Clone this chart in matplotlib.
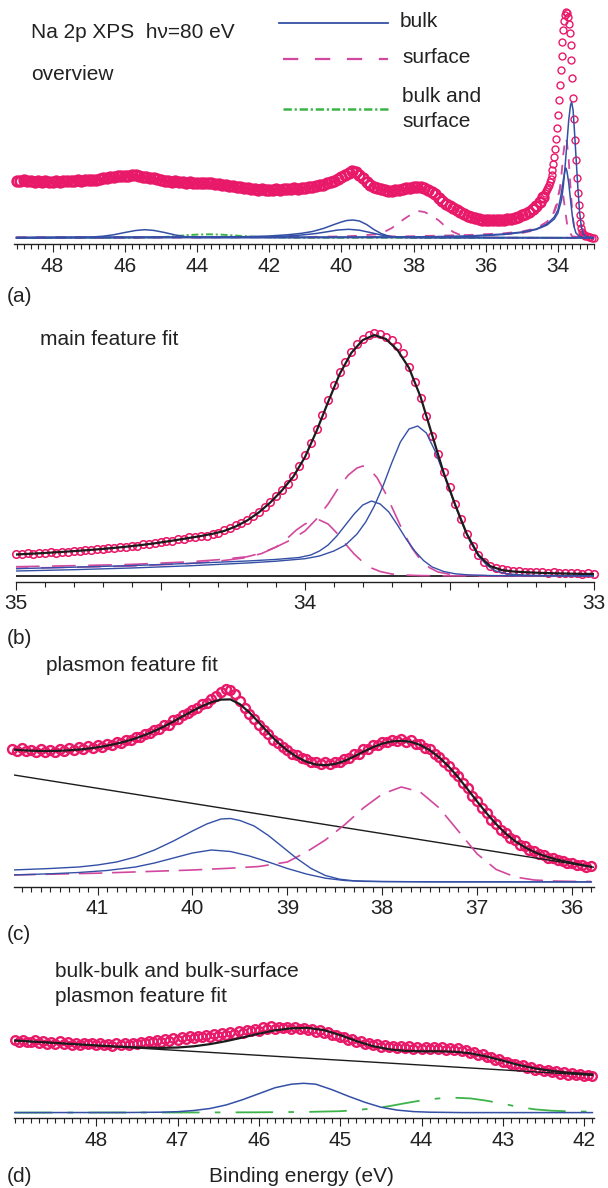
import numpy as np
import matplotlib
matplotlib.use("Agg")
import matplotlib.pyplot as plt
from matplotlib.lines import Line2D
from matplotlib.ticker import FixedLocator, FixedFormatter

plt.rcParams['font.family'] = ['Liberation Sans', 'DejaVu Sans']
plt.rcParams['lines.scale_dashes'] = False

# ---------------- data: panel (a) overview ----------------
a_energy = [
    49.0, 48.9, 48.8, 48.7, 48.6, 48.5, 48.4, 48.3, 48.2, 48.1,
    48.0, 47.9, 47.8, 47.7, 47.6, 47.5, 47.4, 47.3, 47.2, 47.1,
    47.0, 46.9, 46.8, 46.7, 46.6, 46.5, 46.4, 46.3, 46.2, 46.1,
    46.0, 45.9, 45.8, 45.7, 45.6, 45.5, 45.4, 45.3, 45.2, 45.1,
    45.0, 44.9, 44.8, 44.7, 44.6, 44.5, 44.4, 44.3, 44.2, 44.1,
    44.0, 43.9, 43.8, 43.7, 43.6, 43.5, 43.4, 43.3, 43.2, 43.1,
    43.0, 42.9, 42.8, 42.7, 42.6, 42.5, 42.4, 42.3, 42.2, 42.1,
    42.0, 41.9, 41.8, 41.7, 41.6, 41.5, 41.4, 41.3, 41.2, 41.1,
    41.0, 40.9, 40.8, 40.7, 40.6, 40.5, 40.4, 40.3, 40.2, 40.1,
    40.0, 39.9, 39.8, 39.7, 39.6, 39.5, 39.4, 39.3, 39.2, 39.1,
    39.0, 38.9, 38.8, 38.7, 38.6, 38.5, 38.4, 38.3, 38.2, 38.1,
    38.0, 37.9, 37.8, 37.7, 37.6, 37.5, 37.4, 37.3, 37.2, 37.1,
    37.0, 36.9, 36.8, 36.7, 36.6, 36.5, 36.4, 36.3, 36.2, 36.1,
    36.0, 35.9, 35.8, 35.7, 35.6, 35.5, 35.4, 35.3, 35.2, 35.1,
    35.0, 34.9, 34.8, 34.7, 34.6, 34.5, 34.4,
    34.375, 34.35, 34.325, 34.3, 34.275, 34.25, 34.225, 34.2, 34.175, 34.15,
    34.125, 34.1, 34.075, 34.05, 34.025, 34.0, 33.975, 33.95, 33.925, 33.9,
    33.875, 33.85, 33.825, 33.8, 33.775, 33.75, 33.725, 33.7, 33.675, 33.65,
    33.625, 33.6, 33.575, 33.55, 33.525, 33.5, 33.475, 33.45, 33.425, 33.4,
    33.375, 33.35, 33.325, 33.3, 33.275, 33.25, 33.2, 33.15, 33.1, 33.05,
    33.0]
a_counts = [
    57.5, 57.0, 57.6, 56.8, 57.2, 56.4, 56.9, 56.2, 56.8, 56.0,
    56.5, 56.9, 56.3, 57.2, 56.7, 57.3, 57.0, 57.8, 57.3, 58.0,
    57.7, 58.5, 58.2, 59.0, 59.6, 60.0, 60.8, 60.6, 61.6, 61.8,
    62.5, 62.4, 63.2, 62.6, 62.4, 61.4, 61.0, 59.8, 59.6, 58.6,
    58.3, 57.4, 57.2, 56.4, 56.6, 55.8, 56.0, 55.4, 55.8, 55.0,
    55.4, 54.8, 55.2, 54.6, 54.9, 54.4, 54.0, 53.4, 53.0, 52.2,
    51.8, 51.0, 50.8, 50.0, 49.8, 49.2, 48.9, 48.4, 48.6, 48.0,
    48.2, 48.0, 48.6, 48.3, 49.0, 49.4, 49.2, 49.8, 49.5, 50.0,
    50.2, 50.8, 51.2, 51.8, 52.6, 53.4, 54.6, 55.8, 57.4, 59.2,
    61.0, 63.0, 64.8, 67.0, 66.0, 63.0, 59.8, 56.5, 53.5, 51.2,
    49.6, 48.6, 47.8, 47.4, 47.2, 47.6, 48.2, 48.9, 49.6, 50.4,
    51.0, 51.2, 50.8, 49.8, 48.4, 46.4, 43.6, 40.4, 37.2, 34.4,
    32.0, 29.6, 27.6, 25.6, 23.8, 22.0, 20.8, 19.6, 18.9, 18.4,
    18.0, 17.8, 17.6, 17.7, 17.8, 18.1, 18.6, 19.3, 20.1, 21.2,
    22.6, 24.2, 26.2, 28.8, 32.0, 36.2, 41.5,
    43.5, 45.5, 47.0, 49.0, 51.0, 53.5, 56.0, 59.0, 63.0, 68.0,
    74.0, 81.0, 89.0, 99.0, 110.0, 123.0, 138.0, 153.0, 168.0, 182.0,
    196.0, 208.0, 217.0, 223.0, 226.0, 225.0, 221.0, 214.0, 205.0, 193.0,
    178.0, 160.0, 140.0, 119.0, 98.0, 78.0, 60.0, 45.0, 33.0, 23.0,
    15.0, 10.0, 6.5, 4.5, 3.2, 2.4, 1.6, 1.0, 0.7, 0.5,
    0.3]

a_bulk_main1_E = [49.0, 41.0, 38.0, 36.5, 35.5, 35.0, 34.6, 34.3, 34.1, 34.0, 33.9, 33.85, 33.8,
                  33.75, 33.7, 33.65, 33.62, 33.58, 33.55, 33.5, 33.45, 33.4, 33.35, 33.3, 33.2, 33.0]
a_bulk_main1_I = [0.3, 0.5, 1.0, 1.5, 3.5, 5.5, 8.5, 13.0, 19.0, 25.0, 38.0, 52.0, 72.0,
                  95.0, 118.0, 133.0, 136.0, 128.0, 112.0, 82.0, 52.0, 26.0, 11.0, 4.0, 1.0, 0.2]
a_bulk_main2_E = [49.0, 38.0, 36.5, 35.5, 35.0, 34.6, 34.3, 34.1, 34.0, 33.95, 33.9, 33.85,
                  33.8, 33.78, 33.75, 33.7, 33.65, 33.6, 33.55, 33.5, 33.4, 33.3, 33.0]
a_bulk_main2_I = [0.3, 1.0, 2.0, 4.0, 6.0, 9.0, 14.0, 21.0, 28.0, 36.0, 46.0, 58.0,
                  68.0, 70.0, 67.0, 55.0, 38.0, 22.0, 11.0, 5.0, 1.5, 0.5, 0.2]
a_bulk_pl1_E = [49.0, 43.0, 42.0, 41.5, 41.1, 40.8, 40.5, 40.2, 40.0, 39.85, 39.68, 39.5,
                39.3, 39.1, 38.9, 38.7, 38.5, 38.0, 33.0]
a_bulk_pl1_I = [0.5, 1.0, 2.0, 3.2, 4.7, 6.5, 9.5, 13.5, 16.0, 17.5, 18.0, 17.0,
                13.5, 8.5, 4.5, 2.0, 1.0, 0.5, 0.3]
a_bulk_pl2_E = [49.0, 42.0, 41.5, 41.1, 40.7, 40.4, 40.1, 39.8, 39.5, 39.2, 38.9, 38.6, 38.3, 33.0]
a_bulk_pl2_I = [0.3, 1.2, 2.0, 3.0, 4.5, 6.2, 8.0, 8.7, 7.8, 5.5, 3.0, 1.2, 0.5, 0.2]
a_bulk_bb_E = [49.0, 47.0, 46.6, 46.3, 46.0, 45.7, 45.45, 45.2, 44.9, 44.6, 44.3, 44.0, 33.0]
a_bulk_bb_I = [0.3, 0.8, 1.8, 3.3, 5.5, 7.5, 8.3, 7.6, 5.5, 3.0, 1.2, 0.5, 0.3]
a_surf_pl_E = [49.0, 41.0, 40.0, 39.5, 39.0, 38.8, 38.6, 38.43, 38.2, 38.0, 37.88, 37.7,
               37.5, 37.3, 37.1, 36.9, 36.7, 36.4, 36.0, 35.0, 33.0]
a_surf_pl_I = [0.5, 1.0, 1.6, 2.3, 4.0, 6.3, 10.0, 14.7, 20.5, 25.0, 27.0, 26.0,
               22.5, 17.5, 11.0, 6.0, 3.0, 1.2, 0.5, 0.2, 0.2]
a_surf_main1_E = [49.0, 40.0, 38.0, 36.5, 35.5, 35.0, 34.6, 34.3, 34.1, 34.0, 33.95, 33.9,
                  33.85, 33.8, 33.78, 33.75, 33.7, 33.65, 33.6, 33.55, 33.5, 33.4, 33.0]
a_surf_main1_I = [0.5, 1.0, 1.8, 3.0, 4.7, 6.5, 9.7, 16.3, 26.0, 36.0, 48.0, 64.0,
                  84.0, 98.0, 100.0, 96.0, 78.0, 50.0, 26.0, 10.0, 3.5, 0.5, 0.2]
a_surf_main2_E = [49.0, 38.0, 36.0, 35.0, 34.6, 34.3, 34.15, 34.05, 34.0, 33.95, 33.92,
                  33.88, 33.85, 33.8, 33.75, 33.7, 33.6, 33.0]
a_surf_main2_I = [0.3, 1.0, 2.5, 5.0, 8.0, 14.0, 22.0, 33.0, 41.0, 49.0, 52.0,
                  49.0, 42.0, 28.0, 15.0, 7.0, 1.5, 0.2]
a_bs_E = [49.0, 45.5, 45.0, 44.6, 44.3, 44.0, 43.65, 43.3, 43.0, 42.6, 42.2, 41.5, 33.0]
a_bs_I = [0.2, 0.3, 0.8, 1.8, 2.8, 3.4, 3.7, 3.3, 2.6, 1.6, 0.8, 0.3, 0.1]

a_ticks = [48, 46, 44, 42, 40, 38, 36, 34]
a_ticklabels = ["48", "46", "44", "42", "40", "38", "36", "34"]

# ---------------- data: panel (b) main feature ----------------
b_energy = [
    35.00, 34.98, 34.96, 34.94, 34.92, 34.90, 34.88, 34.86, 34.84, 34.82,
    34.80, 34.78, 34.76, 34.74, 34.72, 34.70, 34.68, 34.66, 34.64, 34.62,
    34.60, 34.58, 34.56, 34.54, 34.52, 34.50, 34.48, 34.46, 34.44, 34.42,
    34.40, 34.38, 34.36, 34.34, 34.32, 34.30, 34.28, 34.26, 34.24, 34.22,
    34.20, 34.18, 34.16, 34.14, 34.12, 34.10, 34.08, 34.06, 34.04, 34.02,
    34.00, 33.98, 33.96, 33.94, 33.92, 33.90, 33.88, 33.86, 33.84, 33.82,
    33.80, 33.78, 33.76, 33.74, 33.72, 33.70, 33.68, 33.66, 33.64, 33.62,
    33.60, 33.58, 33.56, 33.54, 33.52, 33.50, 33.48, 33.46, 33.44, 33.42,
    33.40, 33.38, 33.36, 33.34, 33.32, 33.30, 33.28, 33.26, 33.24, 33.22,
    33.20, 33.18, 33.16, 33.14, 33.12, 33.10, 33.08, 33.06, 33.04, 33.02,
    33.00]
b_counts = [
    22.4, 21.8, 22.6, 22.1, 23.2, 22.9, 23.8, 23.4, 24.4, 24.2,
    25.2, 25.0, 26.0, 25.8, 26.9, 26.8, 27.9, 27.9, 29.1, 29.1,
    30.3, 30.4, 31.7, 31.9, 33.3, 33.6, 34.9, 35.3, 36.7, 37.1,
    38.5, 38.8, 40.1, 40.3, 41.8, 42.8, 45.8, 47.8, 50.8, 52.8,
    56.4, 59.8, 64.4, 68.8, 74.4, 79.8, 86.4, 91.8, 100.4, 109.8,
    121.4, 132.8, 147.4, 160.8, 176.4, 190.8, 204.4, 213.8, 224.4, 231.8,
    237.4, 240.8, 243.4, 241.8, 239.4, 235.6, 229.6, 223.4, 209.0, 194.4,
    178.0, 160.4, 140.0, 122.4, 104.0, 89.4, 72.0, 57.4, 42.0, 30.4,
    21.0, 14.4, 10.0, 8.4, 6.5, 5.9, 5.0, 5.0, 4.3, 4.4,
    3.8, 4.0, 3.4, 3.6, 3.0, 3.3, 2.7, 2.9, 2.3, 2.6,
    2.0]
b_fit_E = [
    35.00, 34.96, 34.92, 34.88, 34.84, 34.80, 34.76, 34.72, 34.68, 34.64,
    34.60, 34.56, 34.52, 34.48, 34.44, 34.40, 34.36, 34.32, 34.28, 34.24,
    34.20, 34.16, 34.12, 34.08, 34.04, 34.00, 33.96, 33.92, 33.88, 33.84,
    33.80, 33.76, 33.72, 33.68, 33.64, 33.60, 33.56, 33.52, 33.48, 33.44,
    33.40, 33.36, 33.32, 33.28, 33.24, 33.20, 33.16, 33.12, 33.08, 33.04,
    33.00]
b_fit_I = [
    21.5, 22.1, 22.7, 23.4, 24.1, 24.9, 25.7, 26.6, 27.6, 28.7,
    29.9, 31.2, 32.7, 34.4, 36.2, 38.1, 40.0, 42.2, 45.0, 49.5,
    55.5, 63.5, 73.5, 85.5, 99.5, 119.0, 145.0, 174.0, 202.0, 223.0,
    236.0, 241.0, 237.0, 226.0, 208.0, 179.0, 141.0, 103.0, 71.0, 42.0,
    21.0, 10.0, 6.0, 4.5, 3.8, 3.3, 2.9, 2.6, 2.3, 2.1,
    2.0]
b_bulk1_E = [35.0, 34.8, 34.6, 34.4, 34.2, 34.1, 34.0, 33.95, 33.9, 33.86, 33.82, 33.79, 33.76,
             33.73, 33.70, 33.67, 33.64, 33.61, 33.58, 33.55, 33.52, 33.49, 33.46, 33.43, 33.40,
             33.37, 33.34, 33.30, 33.25, 33.2, 33.1, 33.0]
b_bulk1_I = [5.0, 6.3, 8.0, 10.2, 13.0, 14.8, 17.3, 20.0, 25.0, 31.0, 42.0, 54.0, 70.0,
             90.0, 113.0, 134.0, 147.0, 150.0, 143.0, 125.0, 102.0, 78.0, 55.0, 35.0, 20.0,
             10.5, 5.0, 2.2, 1.0, 0.6, 0.3, 0.2]
b_bulk2_E = [35.0, 34.8, 34.6, 34.4, 34.2, 34.1, 34.02, 33.98, 33.95, 33.92, 33.89, 33.86, 33.83,
             33.80, 33.77, 33.74, 33.71, 33.68, 33.65, 33.62, 33.59, 33.56, 33.52, 33.48, 33.43,
             33.35, 33.2, 33.0]
b_bulk2_I = [7.3, 8.8, 10.4, 12.6, 15.0, 16.6, 18.5, 21.0, 25.0, 31.0, 40.0, 51.0, 62.0,
             71.0, 75.0, 72.0, 64.0, 51.0, 37.0, 25.0, 15.5, 9.0, 4.5, 2.2, 1.0,
             0.4, 0.2, 0.1]
b_surf1_E = [35.0, 34.8, 34.6, 34.4, 34.3, 34.2, 34.15, 34.1, 34.05, 34.0, 33.96, 33.92, 33.88,
             33.85, 33.82, 33.80, 33.78, 33.75, 33.72, 33.69, 33.66, 33.63, 33.60, 33.57, 33.54,
             33.5, 33.45, 33.4, 33.3, 33.0]
b_surf1_I = [9.3, 10.3, 11.6, 14.2, 16.3, 19.3, 23.0, 29.0, 36.0, 45.0, 57.0, 72.0, 90.0,
             101.0, 108.0, 110.0, 108.0, 98.0, 82.0, 63.0, 44.0, 28.0, 16.0, 8.5, 4.0,
             1.8, 0.8, 0.4, 0.2, 0.1]
b_surf2_E = [35.0, 34.8, 34.6, 34.4, 34.3, 34.2, 34.15, 34.1, 34.06, 34.03, 34.0, 33.97, 33.95,
             33.92, 33.89, 33.86, 33.83, 33.80, 33.77, 33.74, 33.70, 33.66, 33.6, 33.5, 33.3, 33.0]
b_surf2_I = [7.7, 8.8, 10.0, 12.5, 14.8, 18.5, 22.5, 29.0, 38.0, 46.0, 52.0, 55.5, 56.0,
             52.0, 43.0, 32.0, 22.0, 14.0, 8.0, 4.5, 2.0, 1.0, 0.4, 0.2, 0.1, 0.1]
b_ticks = [35, 34.5, 34, 33.5, 33]
b_ticklabels = ["35", "", "34", "", "33"]

# ---------------- data: panel (c) plasmon feature ----------------
c_energy = [
    41.90, 41.85, 41.80, 41.75, 41.70, 41.65, 41.60, 41.55, 41.50, 41.45,
    41.40, 41.35, 41.30, 41.25, 41.20, 41.15, 41.10, 41.05, 41.00, 40.95,
    40.90, 40.85, 40.80, 40.75, 40.70, 40.65, 40.60, 40.55, 40.50, 40.45,
    40.40, 40.35, 40.30, 40.25, 40.20, 40.15, 40.10, 40.05, 40.00, 39.95,
    39.90, 39.85, 39.80, 39.75, 39.70, 39.65, 39.60, 39.55, 39.50, 39.45,
    39.40, 39.35, 39.30, 39.25, 39.20, 39.15, 39.10, 39.05, 39.00, 38.95,
    38.90, 38.85, 38.80, 38.75, 38.70, 38.65, 38.60, 38.55, 38.50, 38.45,
    38.40, 38.35, 38.30, 38.25, 38.20, 38.15, 38.10, 38.05, 38.00, 37.95,
    37.90, 37.85, 37.80, 37.75, 37.70, 37.65, 37.60, 37.55, 37.50, 37.45,
    37.40, 37.35, 37.30, 37.25, 37.20, 37.15, 37.10, 37.05, 37.00, 36.95,
    36.90, 36.85, 36.80, 36.75, 36.70, 36.65, 36.60, 36.55, 36.50, 36.45,
    36.40, 36.35, 36.30, 36.25, 36.20, 36.15, 36.10, 36.05, 36.00, 35.95,
    35.90, 35.85, 35.80]
c_counts = [
    133.5, 130.8, 133.6, 130.6, 132.4, 129.8, 132.8, 130.4, 131.6, 129.6,
    133.0, 130.8, 134.0, 131.6, 135.2, 132.6, 136.0, 133.8, 137.0, 135.2,
    138.2, 137.0, 140.4, 139.0, 142.0, 141.6, 145.0, 144.6, 148.4, 148.6,
    152.0, 152.8, 156.6, 157.4, 161.8, 162.6, 167.2, 168.6, 172.4, 173.8,
    177.6, 179.0, 182.8, 185.6, 190.4, 193.0, 192.4, 187.8, 180.6, 174.2,
    168.0, 162.6, 157.4, 151.8, 147.6, 142.4, 139.2, 134.6, 132.4, 128.4,
    126.8, 123.6, 122.8, 120.2, 120.4, 118.2, 119.6, 117.8, 120.4, 119.6,
    123.2, 123.6, 127.6, 128.4, 132.6, 133.0, 136.8, 136.6, 140.0, 139.6,
    142.2, 140.6, 142.8, 140.4, 141.6, 138.4, 138.2, 134.0, 132.6, 128.0,
    125.2, 120.0, 116.4, 110.2, 105.6, 98.6, 93.8, 86.0, 81.4, 73.6,
    69.2, 62.0, 58.0, 52.0, 49.0, 43.8, 41.6, 37.4, 35.6, 32.0,
    30.6, 27.8, 26.8, 24.2, 23.6, 21.6, 21.2, 19.2, 19.0, 17.2,
    17.2, 15.4, 15.6]
c_fit_E = [
    41.9, 41.8, 41.7, 41.6, 41.5, 41.4, 41.3, 41.2, 41.1, 41.0,
    40.9, 40.8, 40.7, 40.6, 40.5, 40.4, 40.3, 40.2, 40.1, 40.0,
    39.9, 39.8, 39.7, 39.6, 39.5, 39.4, 39.3, 39.2, 39.1, 39.0,
    38.9, 38.8, 38.7, 38.6, 38.5, 38.4, 38.3, 38.2, 38.1, 38.0,
    37.9, 37.8, 37.7, 37.6, 37.5, 37.4, 37.3, 37.2, 37.1, 37.0,
    36.9, 36.8, 36.7, 36.6, 36.5, 36.4, 36.3, 36.2, 36.1, 36.0,
    35.9, 35.8]
c_fit_I = [
    132.5, 131.8, 131.3, 131.0, 131.0, 131.2, 131.7, 132.4, 133.4, 134.7,
    136.3, 138.3, 140.7, 143.6, 147.0, 151.0, 155.5, 160.5, 165.8, 171.0,
    175.8, 179.8, 182.4, 182.6, 177.8, 169.5, 159.5, 149.0, 139.5, 131.5,
    125.0, 120.3, 117.5, 116.8, 118.0, 121.0, 125.4, 130.2, 134.8, 138.4,
    140.6, 141.2, 140.2, 137.0, 131.8, 124.6, 115.4, 104.6, 92.6, 80.4,
    68.6, 57.8, 48.4, 40.8, 34.8, 30.0, 26.3, 23.4, 21.0, 19.0,
    17.0, 15.2]
c_bg_E = [41.88, 35.77]
c_bg_I = [107.0, 14.7]
c_bulk1_E = [41.9, 41.5, 41.2, 41.0, 40.8, 40.6, 40.4, 40.2, 40.0, 39.85, 39.7, 39.6, 39.5,
             39.35, 39.2, 39.05, 38.9, 38.75, 38.6, 38.45, 38.3, 38.0, 37.5, 36.5, 35.8]
c_bulk1_I = [12.0, 13.5, 15.0, 17.0, 20.0, 25.0, 32.0, 41.0, 51.0, 58.0, 63.0, 63.5, 61.5,
             56.0, 46.5, 35.0, 23.5, 13.5, 6.5, 2.8, 1.2, 0.4, 0.2, 0.1, 0.1]
c_bulk2_E = [41.9, 41.5, 41.2, 40.9, 40.6, 40.4, 40.2, 40.0, 39.8, 39.6, 39.4, 39.2, 39.0,
             38.8, 38.6, 38.4, 38.2, 37.5, 35.8]
c_bulk2_I = [7.0, 8.2, 9.5, 11.5, 15.0, 19.0, 24.0, 29.0, 32.0, 30.5, 26.0, 20.0, 13.5,
             8.0, 3.8, 1.5, 0.6, 0.2, 0.1]
c_surf_E = [41.9, 41.0, 40.5, 40.0, 39.6, 39.3, 39.0, 38.8, 38.6, 38.4, 38.2, 38.0, 37.8,
            37.6, 37.4, 37.2, 37.0, 36.8, 36.6, 36.4, 36.2, 36.0, 35.8]
c_surf_I = [7.0, 8.8, 10.4, 12.0, 13.8, 15.5, 20.0, 30.0, 42.0, 57.0, 74.0, 88.0, 95.0,
            90.0, 74.0, 51.0, 28.0, 12.5, 5.0, 2.0, 1.0, 0.6, 0.5]
c_ticks = [41, 40, 39, 38, 37, 36]
c_ticklabels = ["41", "40", "39", "38", "37", "36"]

# ---------------- data: panel (d) bulk-bulk / bulk-surface ----------------
d_energy = [
    49.00, 48.95, 48.90, 48.85, 48.80, 48.75, 48.70, 48.65, 48.60, 48.55,
    48.50, 48.45, 48.40, 48.35, 48.30, 48.25, 48.20, 48.15, 48.10, 48.05,
    48.00, 47.95, 47.90, 47.85, 47.80, 47.75, 47.70, 47.65, 47.60, 47.55,
    47.50, 47.45, 47.40, 47.35, 47.30, 47.25, 47.20, 47.15, 47.10, 47.05,
    47.00, 46.95, 46.90, 46.85, 46.80, 46.75, 46.70, 46.65, 46.60, 46.55,
    46.50, 46.45, 46.40, 46.35, 46.30, 46.25, 46.20, 46.15, 46.10, 46.05,
    46.00, 45.95, 45.90, 45.85, 45.80, 45.75, 45.70, 45.65, 45.60, 45.55,
    45.50, 45.45, 45.40, 45.35, 45.30, 45.25, 45.20, 45.15, 45.10, 45.05,
    45.00, 44.95, 44.90, 44.85, 44.80, 44.75, 44.70, 44.65, 44.60, 44.55,
    44.50, 44.45, 44.40, 44.35, 44.30, 44.25, 44.20, 44.15, 44.10, 44.05,
    44.00, 43.95, 43.90, 43.85, 43.80, 43.75, 43.70, 43.65, 43.60, 43.55,
    43.50, 43.45, 43.40, 43.35, 43.30, 43.25, 43.20, 43.15, 43.10, 43.05,
    43.00, 42.95, 42.90, 42.85, 42.80, 42.75, 42.70, 42.65, 42.60, 42.55,
    42.50, 42.45, 42.40, 42.35, 42.30, 42.25, 42.20, 42.15, 42.10, 42.05,
    42.00, 41.95, 41.90]
d_counts = [
    72.5, 70.8, 73.0, 71.2, 70.4, 72.6, 70.0, 71.6, 69.2, 70.8,
    68.6, 71.4, 69.0, 70.6, 68.2, 70.2, 67.8, 70.0, 68.4, 69.6,
    67.4, 69.8, 67.6, 68.8, 66.8, 69.4, 67.6, 69.8, 67.8, 70.2,
    68.8, 71.0, 69.6, 72.0, 70.4, 72.8, 71.2, 73.6, 72.0, 74.6,
    73.0, 75.4, 73.6, 76.4, 74.6, 77.0, 75.4, 78.0, 76.0, 78.6,
    77.2, 79.8, 78.0, 80.6, 79.2, 82.0, 80.0, 82.6, 81.4, 84.0,
    82.2, 85.6, 83.6, 86.4, 84.0, 86.0, 84.4, 86.2, 84.2, 85.6,
    83.4, 85.0, 82.8, 84.0, 81.2, 82.6, 79.6, 80.4, 77.6, 78.2,
    75.6, 75.8, 73.2, 73.4, 70.8, 71.4, 69.0, 69.8, 67.4, 68.6,
    66.2, 67.8, 65.4, 67.2, 64.8, 66.6, 64.4, 66.4, 64.0, 66.2,
    63.8, 66.0, 63.6, 65.8, 63.4, 65.6, 63.0, 65.2, 62.6, 64.4,
    61.8, 63.0, 60.2, 61.0, 57.8, 58.6, 55.6, 56.0, 53.0, 53.4,
    50.6, 51.2, 48.4, 49.2, 46.6, 47.4, 44.8, 45.8, 43.2, 44.2,
    41.6, 42.8, 40.4, 41.6, 39.2, 40.6, 38.2, 39.6, 37.4, 38.8,
    36.6, 38.0, 36.4]
d_fit_E = [49.0, 48.8, 48.6, 48.4, 48.2, 48.0, 47.8, 47.6, 47.4, 47.2, 47.0, 46.8, 46.6,
           46.4, 46.2, 46.0, 45.8, 45.6, 45.4, 45.2, 45.0, 44.8, 44.6, 44.4, 44.2, 44.0,
           43.8, 43.6, 43.4, 43.2, 43.0, 42.8, 42.6, 42.4, 42.2, 42.0, 41.9]
d_fit_I = [72.2, 71.2, 70.3, 69.3, 68.3, 67.3, 66.4, 65.6, 65.0, 64.8, 65.2, 66.4, 68.6,
           71.6, 75.2, 79.0, 82.4, 84.4, 84.8, 82.6, 77.6, 71.6, 66.6, 63.4, 61.8, 61.4,
           61.4, 61.0, 59.4, 56.2, 52.0, 47.6, 44.2, 41.8, 40.0, 38.8, 38.2]
d_bg_E = [49.0, 41.9]
d_bg_I = [72.0, 37.4]
d_bulk_E = [49.0, 47.6, 47.2, 47.0, 46.8, 46.6, 46.4, 46.2, 46.0, 45.8, 45.6, 45.45, 45.3,
            45.1, 44.9, 44.7, 44.5, 44.3, 44.1, 43.9, 43.5, 41.9]
d_bulk_I = [0.1, 0.2, 0.5, 1.0, 2.2, 4.2, 7.8, 13.0, 19.0, 25.0, 28.5, 29.4, 28.5,
            23.0, 16.5, 10.5, 5.5, 2.6, 1.1, 0.5, 0.1, 0.1]
d_bs_E = [49.0, 47.0, 46.0, 45.4, 45.0, 44.8, 44.6, 44.4, 44.2, 44.0, 43.8, 43.6, 43.4,
          43.2, 43.0, 42.8, 42.6, 42.4, 42.2, 41.9]
d_bs_I = [0.1, 0.2, 0.4, 0.8, 1.5, 2.6, 4.3, 6.5, 9.5, 12.3, 14.2, 15.0, 14.3,
          12.0, 9.0, 5.6, 3.3, 2.0, 1.4, 1.0]
d_ticks = [48, 47, 46, 45, 44, 43, 42]
d_ticklabels = ["48", "47", "46", "45", "44", "43", "42"]

# ---------------- styling ----------------
W, H = 608, 1188
PINK = '#E9196A'
BLUE = '#3450A6'
SURF = '#D2489E'
GREEN = '#3DB44A'
BLACK = '#1c1c1c'
TXT = '#222222'

fig = plt.figure(figsize=(W / 100, H / 100), dpi=100)


def add_ax(x0, x1, ytop, ybot):
    return fig.add_axes([x0 / W, 1 - ybot / H, (x1 - x0) / W, (ybot - ytop) / H])


def style(ax, xlim, ylim, ticks, labels, minor_step):
    ax.set_xlim(*xlim)
    ax.set_ylim(*ylim)
    for s in ['left', 'right', 'top']:
        ax.spines[s].set_visible(False)
    ax.spines['bottom'].set_linewidth(1.0)
    ax.spines['bottom'].set_color(TXT)
    ax.set_yticks([])
    ax.patch.set_visible(False)
    ax.xaxis.set_major_locator(FixedLocator(ticks))
    ax.xaxis.set_major_formatter(FixedFormatter(labels))
    lo, hi = min(xlim), max(xlim)
    mn = np.arange(np.ceil(lo / minor_step) * minor_step, hi + 1e-9, minor_step)
    ax.xaxis.set_minor_locator(FixedLocator(mn))
    ax.tick_params(axis='x', which='major', direction='out', length=6.0, width=0.8,
                   color=TXT, labelcolor=TXT, labelsize=15, pad=3)
    ax.tick_params(axis='x', which='minor', direction='out', length=3.4, width=0.8, color=TXT)


def circles(size, edge):
    return dict(linestyle='none', marker='o', markersize=size, markerfacecolor='none',
                markeredgecolor=PINK, markeredgewidth=edge, clip_on=False, zorder=2)


# ---- panel (a) ----
axa = add_ax(14, 594, 6, 244)
style(axa, (49.07, 33.0), (-6, 232), a_ticks, a_ticklabels, 0.2)
a_E = np.array(a_energy)
a_C = np.array(a_counts)
dense = a_E >= 34.39
axa.plot(a_E[dense], a_C[dense], **circles(7.0, 1.9))
axa.plot(a_E[~dense], a_C[~dense], **circles(5.0, 1.0))
surf_a = (0, (7, 7))
green_a = (0, (5, 2, 1.5, 2))
axa.plot(a_bs_E, a_bs_I, color=GREEN, lw=1.4, ls=green_a, zorder=3)
axa.plot(a_surf_pl_E, a_surf_pl_I, color=SURF, lw=1.3, ls=surf_a, zorder=3)
axa.plot(a_surf_main1_E, a_surf_main1_I, color=SURF, lw=1.3, ls=surf_a, zorder=3)
axa.plot(a_surf_main2_E, a_surf_main2_I, color=SURF, lw=1.3, ls=surf_a, zorder=3)
for e, i in [(a_bulk_main1_E, a_bulk_main1_I), (a_bulk_main2_E, a_bulk_main2_I),
             (a_bulk_pl1_E, a_bulk_pl1_I), (a_bulk_pl2_E, a_bulk_pl2_I),
             (a_bulk_bb_E, a_bulk_bb_I)]:
    axa.plot(e, i, color=BLUE, lw=1.1, zorder=4)

# ---- panel (b) ----
axb = add_ax(16, 594, 325, 582)
style(axb, (35.0, 33.0), (-6, 251), b_ticks, b_ticklabels, 0.1)
axb.plot(b_energy, b_counts, **circles(5.4, 1.15))
axb.axhline(0, color=BLACK, lw=1.3, zorder=3)
surf_b = (0, (17, 9))
axb.plot(b_surf1_E, b_surf1_I, color=SURF, lw=1.2, ls=surf_b, zorder=3)
axb.plot(b_surf2_E, b_surf2_I, color=SURF, lw=1.2, ls=(8, (17, 9)), zorder=3)
axb.plot(b_bulk1_E, b_bulk1_I, color=BLUE, lw=1.0, zorder=3)
axb.plot(b_bulk2_E, b_bulk2_I, color=BLUE, lw=1.0, zorder=3)
axb.plot(b_fit_E, b_fit_I, color=BLACK, lw=1.6, zorder=4)

# ---- panel (c) ----
axc = add_ax(14, 594, 680, 887)
style(axc, (41.88, 35.77), (-5, 202), c_ticks, c_ticklabels, 0.1)
axc.plot(c_energy, c_counts, **circles(6.4, 1.7))
axc.plot(c_bg_E, c_bg_I, color=BLACK, lw=1.0, zorder=3)
axc.plot(c_surf_E, c_surf_I, color=SURF, lw=1.2, ls=(0, (17, 7)), zorder=3)
axc.plot(c_bulk1_E, c_bulk1_I, color=BLUE, lw=1.0, zorder=3)
axc.plot(c_bulk2_E, c_bulk2_I, color=BLUE, lw=1.0, zorder=3)
axc.plot(c_fit_E, c_fit_I, color=BLACK, lw=1.6, zorder=4)

# ---- panel (d) ----
axd = add_ax(14, 594, 1020, 1118)
style(axd, (49.01, 41.88), (-5.3, 92.7), d_ticks, d_ticklabels, 0.1)
axd.plot(d_energy, d_counts, **circles(6.2, 1.7))
axd.plot(d_bg_E, d_bg_I, color=BLACK, lw=1.0, zorder=3)
axd.plot(d_bs_E, d_bs_I, color=GREEN, lw=1.3, ls=(0, (27, 11, 4, 11)), zorder=3)
axd.plot(d_bulk_E, d_bulk_I, color=BLUE, lw=1.1, zorder=3)
axd.plot(d_fit_E, d_fit_I, color=BLACK, lw=1.6, zorder=4)


# ---------------- texts ----------------
def ftxt(x, y, s, **kw):
    kw.setdefault('fontsize', 15)
    kw.setdefault('color', TXT)
    fig.text(x / W, 1 - y / H, s, **kw)


ftxt(31, 38, "Na 2p XPS  h\u03bd=80 eV", va='baseline')
ftxt(31, 80, "overview", va='baseline')
ftxt(400, 27, "bulk", va='baseline')
ftxt(402, 63, "surface", va='baseline')
ftxt(402, 102, "bulk and", va='baseline')
ftxt(402, 127, "surface", va='baseline')
ftxt(40, 345, "main feature fit", va='baseline')
ftxt(46, 671, "plasmon feature fit", va='baseline')
ftxt(55, 977, "bulk-bulk and bulk-surface", va='baseline')
ftxt(55, 1002, "plasmon feature fit", va='baseline')
ftxt(7, 297, "(a)", va='center')
ftxt(7, 638, "(b)", va='center')
ftxt(7, 935, "(c)", va='center')
ftxt(7, 1176, "(d)", va='center')
ftxt(301, 1176, "Binding energy (eV)", va='center', ha='center')


# legend handles
def fline(x0, x1, y, **kw):
    fig.add_artist(Line2D([x0 / W, x1 / W], [1 - y / H, 1 - y / H],
                          transform=fig.transFigure, **kw))


fline(279, 388, 22.7, color=BLUE, lw=1.3)
fline(283, 388, 59.3, color=SURF, lw=1.6, ls=(0, (11, 12)))
fline(283, 388, 108.6, color=GREEN, lw=1.8, ls=(0, (6, 2, 1.6, 2)))

fig.savefig("out.png", dpi=100)
